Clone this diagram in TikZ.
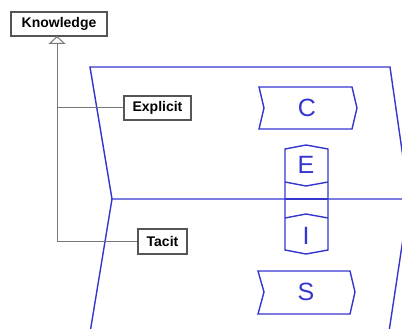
\documentclass[tikz,border=0pt]{standalone}
\usepackage{fontspec}
\setmainfont{Liberation Sans}
\usetikzlibrary{arrows.meta}
\definecolor{lane}{HTML}{3535D0}
\definecolor{tree}{HTML}{777777}
\definecolor{boxline}{HTML}{555555}
\tikzset{
  label box/.style={draw=boxline, line width=1.1pt, fill=white, inner sep=0pt,
    font=\fontsize{14}{16}\selectfont\bfseries, text=black},
  lane line/.style={draw=lane, line width=1.4pt, line join=miter},
  lane text/.style={text=lane, font=\fontsize{25}{27}\selectfont, inner sep=0pt},
  tree line/.style={draw=tree, line width=1pt}
}
\begin{document}
\begin{tikzpicture}[x=1pt,y=-1pt]
\useasboundingbox (0,0) rectangle (402,329);
\clip (0,0) rectangle (402,329);

% swim-lane outline
\draw[lane line] (90,67) -- (390,67) -- (409,199) -- (112,199) -- cycle;
\draw[lane line] (112,199) -- (88,345);
\draw[lane line] (409,199) -- (387,345);

% chevrons C and S
\draw[lane line, fill=white] (259,87) -- (352,87) -- (357,108) -- (352,129) -- (259,129) -- (264,108) -- cycle;
\draw[lane line, fill=white] (258,271) -- (350,271) -- (355,292) -- (350,314) -- (258,314) -- (264,292) -- cycle;

% E / I column
\draw[lane line, fill=white] (285,149) -- (306,145) -- (328,149) -- (328,250) -- (306,254) -- (285,250) -- cycle;
\draw[lane line] (285,182) -- (306,186) -- (328,182);
\draw[lane line] (285,218) -- (306,214) -- (328,218);
\draw[lane line] (285,199) -- (328,199);

\node[lane text] (c) at (307,108) {C};
\node[lane text] (e) at (306,165) {E};
\node[lane text] (i) at (306,236) {I};
\node[lane text] (s) at (306,292) {S};

% knowledge hierarchy
\node[label box, minimum width=96pt, minimum height=24pt] (know) at (59,24) {Knowledge};
\node[label box, minimum width=67pt, minimum height=24pt] (expl) at (157.5,108) {Explicit};
\node[label box, minimum width=49pt, minimum height=25pt] (tac) at (162.5,241.5) {Tacit};

\coordinate (apex) at (57,36);
\coordinate (fork) at (57,108);
\coordinate (corner) at (57,241.5);
\draw[tree line, {Triangle[open, length=8pt, width=17pt, line width=1pt]}-] (apex) -- (corner) -- (tac.west);
\draw[tree line] (fork) -- (expl.west);
\end{tikzpicture}
\end{document}
